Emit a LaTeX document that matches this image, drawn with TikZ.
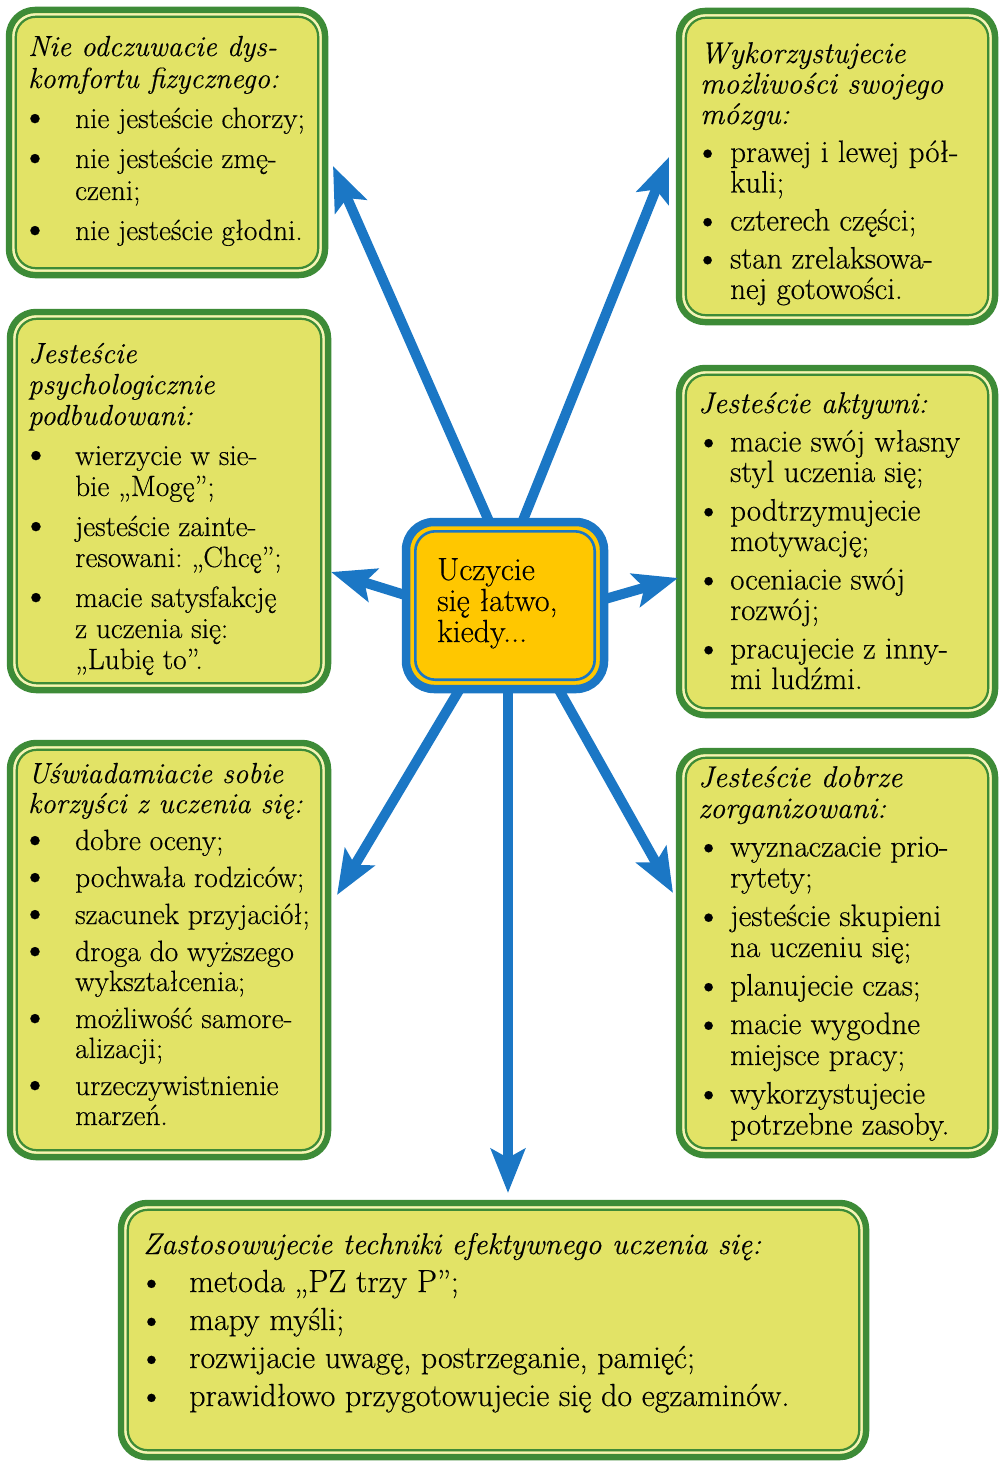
\documentclass[tikz,border=0pt]{standalone}
\usepackage{fontspec}
\setmainfont{Latin Modern Roman}[FakeBold=0.35]
\usetikzlibrary{arrows.meta,fit}

\definecolor{boxfill}{HTML}{E2E366}
\definecolor{gframe}{HTML}{3D8B37}
\definecolor{gpale}{HTML}{F4F4B8}
\definecolor{bframe}{HTML}{1B77C5}
\definecolor{centrefill}{HTML}{FFC700}

% text block helpers: heading lines, bulleted lines, continuation lines
\newlength\itemgap \newlength\bulpad \newlength\bulind
\newcommand\hdsz{29}
\newcommand\bulscale{1.4}
\newcommand\lines[5]{\vtop{\frenchspacing\setlength\baselineskip{#1}\lineskiplimit=-\maxdimen
  \setlength\itemgap{#2}\setlength\bulpad{#3}\setlength\bulind{#4}#5}}
\newcommand\hd[1]{\hbox{\fontsize{\hdsz}{31}\selectfont\itshape #1}}
\newcommand\bigbul{\smash{\raisebox{-0.12ex}{\scalebox{\bulscale}{\textbullet}}}}
\newcommand\li[1]{\vskip\itemgap\hbox{\hspace*{\bulpad}\makebox[0pt][l]{\bigbul}\hspace*{\dimexpr\bulind-\bulpad\relax}#1}}
\newcommand\cl[1]{\hbox{\hspace*{\bulind}#1}}

\begin{document}
\begin{tikzpicture}[x=1pt,y=-1pt,
  gbox/.style={draw=gframe, line width=6.5pt, fill=boxfill, rounded corners=26pt, inner sep=0pt, outer sep=0pt},
  gstripe/.style={draw=gpale, line width=2.4pt, rounded corners=22pt},
  gline/.style={draw=gframe, line width=2.2pt, rounded corners=20pt},
  cbox/.style={draw=bframe, line width=8.5pt, fill=centrefill, rounded corners=28pt, inner sep=0pt, outer sep=0pt},
  cline/.style={draw=bframe, line width=2.6pt, rounded corners=20pt},
  arr/.style={draw=bframe, line width=10pt, -{Stealth[length=44pt,width=34pt,inset=9pt]}},
  lefttxt/.style={anchor=base west, inner sep=0pt, font=\fontsize{29.3}{31}\selectfont},
  righttxt/.style={anchor=base west, inner sep=0pt, font=\fontsize{31}{31}\selectfont},
]
\useasboundingbox (0,0) rectangle (998,1463);

% framed boxes around the hub
\foreach \n/\a/\b in {b1/{(9,10)}/{(325,275)}, b2/{(679,11)}/{(995,322)},
                     b3/{(10,312)}/{(328,690)}, b4/{(679,368)}/{(995,715)},
                     b5/{(10,743)}/{(328,1157)}, b6/{(679,751)}/{(995,1155)},
                     b7/{(121,1203)}/{(866,1457)}}{
  \node[gbox, fit={\a \b}] (\n) {};
  \draw[gstripe] ([shift={(4.5,4.5)}]\n.north west) rectangle ([shift={(-4.5,-4.5)}]\n.south east);
  \draw[gline] ([shift={(6.8,6.8)}]\n.north west) rectangle ([shift={(-6.8,-6.8)}]\n.south east);
}

% box texts
\node[lefttxt] (t1) at (28,56) {\lines{32pt}{8pt}{-8pt}{47pt}{%
  \hd{Nie odczuwacie dys-}
  \hd{komfortu fizycznego:}
  \li{nie jesteście chorzy;}
  \li{nie jesteście zmę-}
  \cl{czeni;}
  \li{nie jesteście głodni.}}};

\node[righttxt] (t2) at (700,63) {\renewcommand\hdsz{30}\renewcommand\bulscale{1.2}\lines{30.5pt}{7.5pt}{-6pt}{30pt}{%
  \hd{Wykorzystujecie}
  \hd{możliwości swojego}
  \hd{mózgu:}
  \li{prawej i lewej pół-}
  \cl{kuli;}
  \li{czterech części;}
  \li{stan zrelaksowa-}
  \cl{nej gotowości.}}};

\node[lefttxt] (t3) at (28,363) {\lines{31pt}{9pt}{-7pt}{47pt}{%
  \hd{Jesteście}
  \hd{psychologicznie}
  \hd{podbudowani:}
  \li{wierzycie w sie-}
  \cl{bie „Mogę”;}
  \li{jesteście zainte-}
  \cl{resowani: „Chcę”;}
  \li{macie satysfakcję}
  \cl{z uczenia się:}
  \cl{„Lubię to”.}}};

\node[righttxt] (t4) at (698,413) {\renewcommand\hdsz{30}\renewcommand\bulscale{1.2}\lines{30.5pt}{8pt}{-3pt}{32pt}{%
  \hd{Jesteście aktywni:}
  \li{macie swój własny}
  \cl{styl uczenia się;}
  \li{podtrzymujecie}
  \cl{motywację;}
  \li{oceniacie swój}
  \cl{rozwój;}
  \li{pracujecie z inny-}
  \cl{mi ludźmi.}}};

\node[lefttxt] (t5) at (28,783) {\lines{30pt}{7pt}{-8pt}{47pt}{%
  \hd{Uświadamiacie sobie}
  \hd{korzyści z uczenia się:}
  \li{dobre oceny;}
  \li{pochwała rodziców;}
  \li{szacunek przyjaciół;}
  \li{droga do wyższego}
  \cl{wykształcenia;}
  \li{możliwość samore-}
  \cl{alizacji;}
  \li{urzeczywistnienie}
  \cl{marzeń.}}};

\node[righttxt] (t6) at (698,787) {\renewcommand\hdsz{30}\renewcommand\bulscale{1.2}\lines{31pt}{7.5pt}{-3pt}{32pt}{%
  \hd{Jesteście dobrze}
  \hd{zorganizowani:}
  \li{wyznaczacie prio-}
  \cl{rytety;}
  \li{jesteście skupieni}
  \cl{na uczeniu się;}
  \li{planujecie czas;}
  \li{macie wygodne}
  \cl{miejsce pracy;}
  \li{wykorzystujecie}
  \cl{potrzebne zasoby.}}};

\node[righttxt, font=\fontsize{32}{38}\selectfont] (t7) at (143,1254) {\renewcommand\hdsz{30}\renewcommand\bulscale{1.15}\lines{38pt}{0pt}{-5pt}{46pt}{%
  \hd{Zastosowujecie techniki efektywnego uczenia się:}
  \li{metoda „PZ trzy P”;}
  \li{mapy myśli;}
  \li{rozwijacie uwagę, postrzeganie, pamięć;}
  \li{prawidłowo przygotowujecie się do egzaminów.}}};

% arrow start points under the hub, and arrow tips
\coordinate (s1) at (506,560); \coordinate (e1) at (333,166);
\coordinate (s2) at (507,560); \coordinate (e2) at (669,157);
\coordinate (s3) at (450,609); \coordinate (e3) at (331,572);
\coordinate (s4) at (560,612); \coordinate (e4) at (678,578);
\coordinate (s5) at (489,640); \coordinate (e5) at (337,895);
\coordinate (s6) at (531,640); \coordinate (e6) at (673,893);
\coordinate (s7) at (508,640); \coordinate (e7) at (508,1193);
\foreach \i in {1,...,7} \draw[arr] (s\i) -- (e\i);

% hub
\node[cbox, fit={(406,522) (604,689)}] (c) {};
\draw[cline] ([shift={(9.3,9.3)}]c.north west) rectangle ([shift={(-9.3,-9.3)}]c.south east);
\node[anchor=base west, inner sep=0pt, font=\fontsize{32}{31}\selectfont] (tc) at (437,580)
  {\lines{31pt}{0pt}{0pt}{0pt}{\hbox{Uczycie}\hbox{się łatwo,}\hbox{kiedy...}}};
\end{tikzpicture}
\end{document}
